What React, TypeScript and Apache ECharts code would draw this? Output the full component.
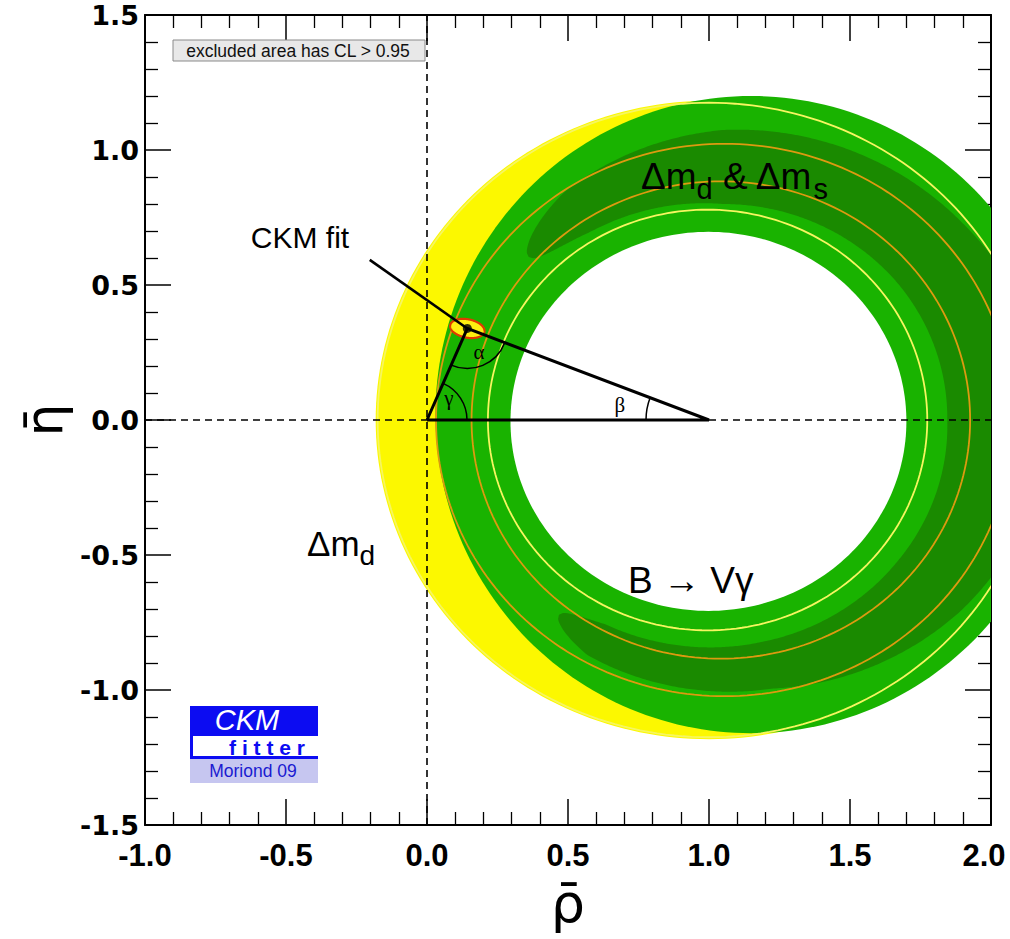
import React, { useEffect, useRef } from "react";
import * as echarts from "echarts";

// ---- axes ----
const rhoRange = [-1.0, 2.0];
const etaRange = [-1.5, 1.5];
const tickInterval = 0.5;

// ---- CKM fit / unitarity triangle ----
const ckmApex = [0.143, 0.339];
const ckmFitEllipse = [0.143, 0.339, 0.062, 0.034, -12]; // cx, cy, rx, ry, tilt(deg)
const ckmPointerStart = [-0.203, 0.593];
const triangleOrigin = [0, 0];
const triangleRight = [1, 0];
const trianglePath = [triangleOrigin, triangleRight, ckmApex, triangleOrigin];

// ---- constraint regions (centre, radii in rho/eta units) ----
const dmdDisk = [1.0, 0.0, 1.182];
const dmsOuterEllipse = [1.149, 0.02, 1.119, 1.18];
const innerHole = [0.998, -0.005, 0.702];

const bandCenter = [1.05, 0.0];
const bandAngles = [138.8, 123.5, 90, 40, 0, -40, -80, -118.8, -128.9];
const bandInnerRadius = [0.916, 0.84, 0.8, 0.8, 0.795, 0.81, 0.833, 0.864, 0.927];
const bandOuterRadius = [0.916, 1.015, 1.074, 1.12, 1.17, 1.1, 1.01, 0.995, 0.927];

const orangeContours = [
  [1.042, 0, 0.884],
  [1.055, 0, 1.023],
];
const yellowContours = [
  [0.995, 0, 0.779],
  [1.0, 0, 1.175],
];

// ---- angle marks ----
const angleNames = ["γ", "α", "β"];
const angleVertices = [triangleOrigin, ckmApex, triangleRight];
const angleNeighbours = [
  [triangleRight, ckmApex],
  [triangleOrigin, triangleRight],
  [triangleOrigin, ckmApex],
];
const angleRadiusPx = [40, 40, 63];
const angleLabelPos = [
  [0.078, 0.081],
  [0.184, 0.252],
  [0.684, 0.056],
];

const YELLOW = "#fcf800";
const GREEN = "#19b300";
const DARK_GREEN = "#1a8a00";
const ORANGE = "#dc9a10";
const LIGHT_YELLOW = "#f6f660";
const SANS = "'Liberation Sans', Arial, Helvetica, sans-serif";
const XLABEL_FONT = "'Liberation Sans', Arial, sans-serif";

function ellipsePoints(api: any, cx: number, cy: number, rx: number, ry: number, tiltDeg = 0, n = 240) {
  const pts: number[][] = [];
  const t = (tiltDeg * Math.PI) / 180;
  for (let i = 0; i <= n; i++) {
    const a = (i / n) * 2 * Math.PI;
    const dx = rx * Math.cos(a);
    const dy = ry * Math.sin(a);
    pts.push(api.coord([cx + dx * Math.cos(t) - dy * Math.sin(t), cy + dx * Math.sin(t) + dy * Math.cos(t)]));
  }
  return pts;
}

function bandPoints(api: any) {
  const outer: number[][] = [];
  const inner: number[][] = [];
  const n = bandAngles.length;
  const a0 = bandAngles[0];
  const a1 = bandAngles[n - 1];
  const steps = 600;
  for (let s = 0; s <= steps; s++) {
    const deg = a0 + ((a1 - a0) * s) / steps;
    let k = 0;
    while (k < n - 2 && deg < bandAngles[k + 1]) k++;
    const A = bandAngles[k];
    const B = bandAngles[k + 1];
    const f = Math.min(1, Math.max(0, (A - deg) / (A - B)));
    const midA = (bandInnerRadius[k] + bandOuterRadius[k]) / 2;
    const midB = (bandInnerRadius[k + 1] + bandOuterRadius[k + 1]) / 2;
    const hwA = (bandOuterRadius[k] - bandInnerRadius[k]) / 2;
    const hwB = (bandOuterRadius[k + 1] - bandInnerRadius[k + 1]) / 2;
    const mid = midA + (midB - midA) * f;
    let hw: number;
    if (k === 0) hw = hwB * Math.sqrt(f);
    else if (k === n - 2) hw = hwA * Math.sqrt(1 - f);
    else hw = hwA + (hwB - hwA) * f;
    const rad = (deg * Math.PI) / 180;
    const c = Math.cos(rad);
    const si = Math.sin(rad);
    outer.push(api.coord([bandCenter[0] + (mid + hw) * c, bandCenter[1] + (mid + hw) * si]));
    inner.push(api.coord([bandCenter[0] + (mid - hw) * c, bandCenter[1] + (mid - hw) * si]));
  }
  return outer.concat(inner.reverse());
}

function axisBase(showLabels: boolean, isX: boolean) {
  return {
    type: "value",
    min: isX ? rhoRange[0] : etaRange[0],
    max: isX ? rhoRange[1] : etaRange[1],
    interval: tickInterval,
    axisLine: { show: true, onZero: false, lineStyle: { color: "#000", width: 2 } },
    axisTick: { show: true, inside: true, length: 26, lineStyle: { color: "#000", width: 1.5 } },
    minorTick: { show: true, splitNumber: 5, length: 13, lineStyle: { color: "#000", width: 1.3 } },
    splitLine: { show: false },
    minorSplitLine: { show: false },
    axisLabel: showLabels
      ? isX
        ? {
            show: true,
            margin: 15,
            formatter: (v: number) => (v === rhoRange[1] ? "{e|" + v.toFixed(1) + "}" : v.toFixed(1)),
            color: "#000",
            fontSize: 31,
            fontWeight: "bold",
            fontFamily: XLABEL_FONT,
            rich: {
              e: {
                fontSize: 31,
                fontWeight: "bold",
                fontFamily: XLABEL_FONT,
                color: "#000",
                padding: [0, 14, 0, 0],
              },
            },
          }
        : {
            show: true,
            margin: 6,
            formatter: (v: number) => v.toFixed(1),
            color: "#000",
            fontSize: 27,
            fontWeight: "bold",
            fontFamily: "'DejaVu Sans', sans-serif",
          }
      : { show: false },
  };
}

export default function App() {
  const ref = useRef<HTMLDivElement>(null);
  useEffect(() => {
    if (!ref.current) return;
    const chart = echarts.init(ref.current, null, { renderer: "svg" });

    const option: any = {
      animation: false,
      backgroundColor: "#ffffff",
      grid: { left: 145, right: 19, top: 15, bottom: 114, containLabel: false, outerBoundsMode: "none" },
      xAxis: [
        { ...axisBase(true, true), position: "bottom" },
        { ...axisBase(false, true), position: "top" },
      ],
      yAxis: [
        { ...axisBase(true, false), position: "left" },
        { ...axisBase(false, false), position: "right" },
      ],
      series: [
        {
          type: "custom",
          name: "dmd",
          silent: true,
          clip: true,
          z: 1,
          data: [[dmdDisk[0], dmdDisk[1]]],
          renderItem: (_p: any, api: any) => ({
            type: "polygon",
            shape: { points: ellipsePoints(api, dmdDisk[0], dmdDisk[1], dmdDisk[2], dmdDisk[2]) },
            style: { fill: YELLOW },
          }),
        },
        {
          type: "custom",
          name: "dms",
          silent: true,
          clip: true,
          z: 2,
          data: [[dmsOuterEllipse[0], dmsOuterEllipse[1]]],
          renderItem: (_p: any, api: any) => ({
            type: "polygon",
            shape: {
              points: ellipsePoints(api, dmsOuterEllipse[0], dmsOuterEllipse[1], dmsOuterEllipse[2], dmsOuterEllipse[3]),
            },
            style: { fill: GREEN },
          }),
        },
        {
          type: "custom",
          name: "band",
          silent: true,
          clip: true,
          z: 3,
          data: [[bandCenter[0], bandCenter[1]]],
          renderItem: (_p: any, api: any) => ({
            type: "polygon",
            shape: { points: bandPoints(api) },
            style: { fill: DARK_GREEN },
          }),
        },
        {
          type: "custom",
          name: "hole",
          silent: true,
          clip: true,
          z: 4,
          data: [[innerHole[0], innerHole[1]]],
          renderItem: (_p: any, api: any) => ({
            type: "polygon",
            shape: { points: ellipsePoints(api, innerHole[0], innerHole[1], innerHole[2], innerHole[2]) },
            style: { fill: "#ffffff" },
          }),
        },
        {
          type: "custom",
          name: "orangeContours",
          silent: true,
          clip: true,
          z: 5,
          data: orangeContours.map((c) => [c[0], c[1]]),
          renderItem: (p: any, api: any) => {
            const c = orangeContours[p.dataIndex];
            return {
              type: "polyline",
              shape: { points: ellipsePoints(api, c[0], c[1], c[2], c[2]) },
              style: { stroke: ORANGE, lineWidth: 1.8, fill: null },
            };
          },
        },
        {
          type: "custom",
          name: "yellowContours",
          silent: true,
          clip: true,
          z: 5,
          data: yellowContours.map((c) => [c[0], c[1]]),
          renderItem: (p: any, api: any) => {
            const c = yellowContours[p.dataIndex];
            return {
              type: "polyline",
              shape: { points: ellipsePoints(api, c[0], c[1], c[2], c[2]) },
              style: { stroke: LIGHT_YELLOW, lineWidth: 1.8, fill: null },
            };
          },
        },
        {
          type: "line",
          name: "etaZero",
          silent: true,
          z: 6,
          symbol: "none",
          data: [
            [rhoRange[0], 0],
            [rhoRange[1], 0],
          ],
          lineStyle: { color: "#000", width: 1.6, type: [7, 5] },
        },
        {
          type: "line",
          name: "rhoZero",
          silent: true,
          z: 6,
          symbol: "none",
          data: [
            [0, etaRange[0]],
            [0, etaRange[1]],
          ],
          lineStyle: { color: "#000", width: 1.6, type: [7, 5] },
        },
        {
          type: "custom",
          name: "fitEllipse",
          silent: true,
          z: 7,
          data: [[ckmFitEllipse[0], ckmFitEllipse[1]]],
          renderItem: (_p: any, api: any) => ({
            type: "polygon",
            shape: {
              points: ellipsePoints(api, ckmFitEllipse[0], ckmFitEllipse[1], ckmFitEllipse[2], ckmFitEllipse[3], ckmFitEllipse[4]),
            },
            style: { fill: "#ffee10", stroke: "#e03a00", lineWidth: 2.2 },
          }),
        },
        {
          type: "line",
          name: "triangle",
          silent: true,
          z: 8,
          symbol: "none",
          data: trianglePath,
          lineStyle: { color: "#000", width: 3 },
        },
        {
          type: "line",
          name: "pointer",
          silent: true,
          z: 8,
          symbol: "none",
          data: [ckmPointerStart, ckmApex],
          lineStyle: { color: "#000", width: 2.6 },
        },
        {
          type: "custom",
          name: "angles",
          silent: true,
          z: 9,
          data: angleVertices.map((v) => [v[0], v[1]]),
          renderItem: (p: any, api: any) => {
            const i = p.dataIndex;
            const v = api.coord(angleVertices[i]);
            const a = api.coord(angleNeighbours[i][0]);
            const b = api.coord(angleNeighbours[i][1]);
            let s = Math.atan2(a[1] - v[1], a[0] - v[0]);
            const e = Math.atan2(b[1] - v[1], b[0] - v[0]);
            let d = e - s;
            while (d < 0) d += 2 * Math.PI;
            while (d >= 2 * Math.PI) d -= 2 * Math.PI;
            if (d > Math.PI) {
              s = e;
              d = 2 * Math.PI - d;
            }
            const lp = api.coord(angleLabelPos[i]);
            return {
              type: "group",
              children: [
                {
                  type: "arc",
                  shape: { cx: v[0], cy: v[1], r: angleRadiusPx[i], startAngle: s, endAngle: s + d, clockwise: true },
                  style: { stroke: "#000", fill: null, lineWidth: 1.5 },
                },
                {
                  type: "text",
                  x: lp[0],
                  y: lp[1],
                  style: {
                    text: angleNames[i],
                    fill: "#000",
                    fontSize: 21,
                    fontFamily: "'Liberation Serif', 'Times New Roman', serif",
                    align: "center",
                    verticalAlign: "middle",
                  },
                },
              ],
            };
          },
        },
        {
          type: "scatter",
          name: "apex",
          silent: true,
          z: 10,
          symbol: "circle",
          symbolSize: 9,
          itemStyle: { color: "#000" },
          data: [ckmApex],
        },
      ],
      graphic: [
        // CL box
        {
          type: "rect",
          shape: { x: 173, y: 40, width: 252, height: 21 },
          style: { fill: "#e8e8e8", stroke: "#8a8a8a", lineWidth: 1 },
          z: 100,
        },
        {
          type: "text",
          x: 298,
          y: 51,
          z: 101,
          style: {
            text: "excluded area has CL > 0.95",
            fill: "#111",
            fontSize: 17.5,
            fontFamily: SANS,
            align: "center",
            verticalAlign: "middle",
          },
        },
        // CKM fit label
        {
          type: "text",
          x: 300,
          y: 237,
          z: 101,
          style: { text: "CKM fit", fill: "#000", fontSize: 30, fontFamily: SANS, align: "center", verticalAlign: "middle" },
        },
        {
          type: "text",
          x: 641,
          y: 176,
          z: 101,
          style: {
            text: "{m|Δm}{s|d}{m| & Δm}{s|s}",
            fill: "#000",
            verticalAlign: "middle",
            align: "left",
            rich: {
              m: { fontSize: 37, fontFamily: SANS, lineHeight: 54, fill: "#000" },
              s: { fontSize: 29, fontFamily: SANS, verticalAlign: "bottom", fill: "#000" },
            },
          },
        },
        {
          type: "text",
          x: 628,
          y: 580,
          z: 101,
          style: { text: "B → Vγ", fill: "#000", fontSize: 37, fontFamily: SANS, align: "left", verticalAlign: "middle" },
        },
        {
          type: "text",
          x: 307,
          y: 543,
          z: 101,
          style: {
            text: "{m|Δm}{s|d}",
            fill: "#000",
            verticalAlign: "middle",
            align: "left",
            rich: {
              m: { fontSize: 35, fontFamily: SANS, lineHeight: 52, fill: "#000" },
              s: { fontSize: 28, fontFamily: SANS, verticalAlign: "bottom", fill: "#000" },
            },
          },
        },
        // logo
        { type: "rect", shape: { x: 190, y: 706, width: 128, height: 53 }, style: { fill: "#0c0cf2" }, z: 100 },
        { type: "rect", shape: { x: 193, y: 736, width: 125, height: 20 }, style: { fill: "#ffffff" }, z: 101 },
        { type: "rect", shape: { x: 190, y: 759, width: 128, height: 24 }, style: { fill: "#c6c6f0" }, z: 100 },
        {
          type: "text",
          x: 247,
          y: 720,
          z: 102,
          style: {
            text: "CKM",
            fill: "#ffffff",
            fontSize: 29,
            fontStyle: "italic",
            fontFamily: SANS,
            align: "center",
            verticalAlign: "middle",
          },
        },
        {
          type: "text",
          x: 267,
          y: 747,
          z: 102,
          style: {
            text: "f i t t e r",
            fill: "#0c0cf2",
            fontSize: 21,
            fontWeight: "bold",
            fontFamily: SANS,
            align: "center",
            verticalAlign: "middle",
          },
        },
        {
          type: "text",
          x: 253,
          y: 771,
          z: 102,
          style: {
            text: "Moriond 09",
            fill: "#1a1ad0",
            fontSize: 17.5,
            fontFamily: SANS,
            align: "center",
            verticalAlign: "middle",
          },
        },
        // axis titles
        {
          type: "text",
          x: 568,
          y: 903,
          z: 102,
          style: {
            text: "ρ\u0304",
            fill: "#000",
            fontSize: 54,
            fontFamily: "'DejaVu Sans', sans-serif",
            align: "center",
            verticalAlign: "middle",
          },
        },
        {
          type: "text",
          x: 44,
          y: 420,
          z: 102,
          rotation: Math.PI / 2,
          style: {
            text: "η\u0304",
            fill: "#000",
            fontSize: 52,
            fontFamily: "'DejaVu Sans', sans-serif",
            align: "center",
            verticalAlign: "middle",
          },
        },
      ],
    };

    chart.setOption(option);
    return () => chart.dispose();
  }, []);

  return (
    <div
      ref={ref}
      style={{ position: "fixed", left: 0, top: 0, width: 1010, height: 939, background: "#fff" }}
    />
  );
}
